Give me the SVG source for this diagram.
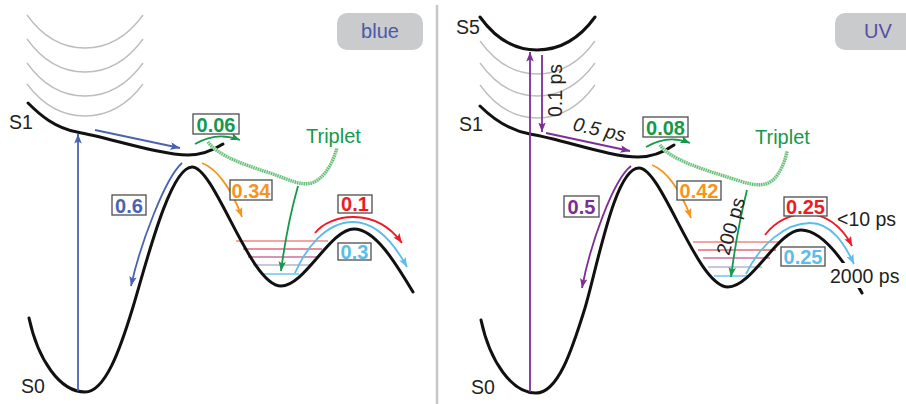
<svg xmlns="http://www.w3.org/2000/svg" width="906" height="404" viewBox="0 0 906 404">
<style>
text{font-family:"Liberation Sans",Arial,sans-serif;}
.lbl{font-size:19.5px;fill:#231f20;}
.num{font-size:20px;font-weight:bold;text-anchor:middle;}
.box{fill:#fff;stroke:#4d4d4d;stroke-width:1.3;}
.pes{fill:none;stroke:#111;stroke-width:3;stroke-linecap:round;}
.gray{fill:none;stroke:#bdbdbd;stroke-width:1.3;}
.vib{stroke-width:1.4;}
.arr{fill:none;stroke-width:1.8;}
.dot{fill:none;stroke:#c4e6c9;stroke-width:3.4;}
.dot2{fill:none;stroke:#55b86a;stroke-width:3.4;stroke-dasharray:1 1.3;}
.tag{fill:#c9cbcd;}
</style>
<defs>
<marker id="hBlue" markerUnits="userSpaceOnUse" markerWidth="11" markerHeight="8" refX="9.5" refY="3.75" orient="auto"><path d="M0,0 L9.5,3.75 L0,7.5 L2,3.75Z" fill="#4a63b0"/></marker>
<marker id="hGreen" markerUnits="userSpaceOnUse" markerWidth="11" markerHeight="8" refX="9.5" refY="3.75" orient="auto"><path d="M0,0 L9.5,3.75 L0,7.5 L2,3.75Z" fill="#16994a"/></marker>
<marker id="hOrange" markerUnits="userSpaceOnUse" markerWidth="11" markerHeight="8" refX="9.5" refY="3.75" orient="auto"><path d="M0,0 L9.5,3.75 L0,7.5 L2,3.75Z" fill="#f7941d"/></marker>
<marker id="hRed" markerUnits="userSpaceOnUse" markerWidth="11" markerHeight="8" refX="9.5" refY="3.75" orient="auto"><path d="M0,0 L9.5,3.75 L0,7.5 L2,3.75Z" fill="#ed1c24"/></marker>
<marker id="hLBlue" markerUnits="userSpaceOnUse" markerWidth="11" markerHeight="8" refX="9.5" refY="3.75" orient="auto"><path d="M0,0 L9.5,3.75 L0,7.5 L2,3.75Z" fill="#5bbde8"/></marker>
<marker id="hPurple" markerUnits="userSpaceOnUse" markerWidth="11" markerHeight="8" refX="9.5" refY="3.75" orient="auto"><path d="M0,0 L9.5,3.75 L0,7.5 L2,3.75Z" fill="#7b2f96"/></marker>
</defs>
<rect x="0" y="0" width="906" height="404" fill="#fff"/>
<line x1="437" y1="5" x2="437" y2="404" stroke="#c8c8c8" stroke-width="2.5"/>

<g id="left-panel">
  <g id="tag-blue"><rect class="tag" x="337" y="13" width="86" height="37" rx="10"/><text x="380" y="38" font-size="20" fill="#4a5aa8" text-anchor="middle">blue</text></g>
  <g id="left-higher-states">
    <path class="gray" d="M27,15 C45,40 65,48 85,48 C105,48 125,40 143,15"/>
    <path class="gray" d="M27,39 C45,64 65,72 85,72 C105,72 125,64 143,39"/>
    <path class="gray" d="M27,63 C45,88 65,96 85,96 C105,96 125,88 143,63"/>
    <path class="gray" d="M27,84 C45,108 65,116 85,116 C105,116 125,108 143,84"/>
  </g>
  <g id="left-vib-levels">
    <line class="vib" x1="236" y1="241" x2="328" y2="241" stroke="#f28585"/>
    <line class="vib" x1="243" y1="249" x2="322" y2="249" stroke="#e9667a"/>
    <line class="vib" x1="248" y1="257" x2="317" y2="257" stroke="#c772a4"/>
    <line class="vib" x1="253" y1="265" x2="311" y2="265" stroke="#b4b4d8"/>
    <line class="vib" x1="262" y1="274" x2="299" y2="274" stroke="#6cc6ee"/>
  </g>
  <g id="left-S1"><path class="pes" d="M28,103 C40,115 55,128 77,132 C110,138 160,155 188,155 C200,155 212,151 223,144"/><text class="lbl" x="9" y="129">S1</text></g>
  <g id="left-S0"><path class="pes" d="M29,318 C38,360 60,392 85,392 C105,392 120,350 133,307 C146,264 170,167 192,167 C215,167 250,286 281,286 C305,286 330,229 354,229 C375,229 395,262 413,292"/><text class="lbl" x="21" y="393">S0</text></g>
  <g id="left-triplet"><path class="dot" d="M208,142 C218,156 245,165 270,173 C290,180 300,186 312,183 C325,178 333,162 337,148"/><path class="dot2" d="M208,142 C218,156 245,165 270,173 C290,180 300,186 312,183 C325,178 333,162 337,148"/><text x="306" y="143" font-size="20" fill="#16994a">Triplet</text></g>
</g>

<g id="right-panel">
  <g id="tag-uv"><rect class="tag" x="835" y="13" width="90" height="37" rx="10"/><text x="878" y="38" font-size="20" fill="#5a4fa0" text-anchor="middle">UV</text></g>
  <g id="right-higher-states">
    <path class="gray" d="M480,41 C498,66 517,74 537,74 C557,74 577,66 595,41"/>
    <path class="gray" d="M480,63 C498,88 517,96 537,96 C557,96 577,88 595,63"/>
    <path class="gray" d="M480,85 C498,110 517,118 537,118 C557,118 577,110 595,85"/>
  </g>
  <g id="right-vib-levels">
    <line class="vib" x1="693" y1="242" x2="781" y2="242" stroke="#f28585"/>
    <line class="vib" x1="698" y1="250" x2="776" y2="250" stroke="#e9667a"/>
    <line class="vib" x1="703" y1="258" x2="770" y2="258" stroke="#c772a4"/>
    <line class="vib" x1="708" y1="267" x2="762" y2="267" stroke="#b4b4d8"/>
    <line class="vib" x1="714" y1="276" x2="748" y2="276" stroke="#6cc6ee"/>
  </g>
  <g id="right-S5"><path class="pes" d="M480,17 C498,42 517,50 537,50 C557,50 577,42 595,17"/><text class="lbl" x="456" y="34">S5</text></g>
  <g id="right-S1"><path class="pes" d="M480,106 C492,118 508,130 530,134 C565,140 610,157 638,157 C652,157 664,152 674,145"/><text class="lbl" x="459" y="131">S1</text></g>
  <g id="right-S0"><path class="pes" d="M481,320 C490,362 512,393 536,393 C558,393 572,350 585,308 C598,264 615,168 639,168 C662,168 697,287 728,287 C752,287 778,230 801,230 C823,230 845,262 862,293"/><text class="lbl" x="471" y="394">S0</text></g>
  <g id="right-triplet"><path class="dot" d="M660,145 C670,160 705,170 740,181 C755,186 767,187 775,178 C782,170 786,158 787,151"/><path class="dot2" d="M660,145 C670,160 705,170 740,181 C755,186 767,187 775,178 C782,170 786,158 787,151"/><text x="755" y="144" font-size="20" fill="#16994a">Triplet</text></g>
  <g id="label-2000ps"><rect x="829" y="263" width="77" height="25" fill="#fff"/><text class="lbl" x="830" y="283" font-size="20">2000 ps</text></g>
</g>

<g id="connectors">
  <path class="arr" stroke="#4a63b0" d="M78,391 L78,134" marker-end="url(#hBlue)"/>
  <path class="arr" stroke="#4a63b0" d="M95,130 L180,148" marker-end="url(#hBlue)"/>
  <path class="arr" stroke="#4a63b0" d="M182,163 C165,178 140,245 131,286" marker-end="url(#hBlue)"/>
  <path class="arr" stroke="#f7941d" d="M202,163 C215,168 230,185 242,217" marker-end="url(#hOrange)"/>
  <path class="arr" stroke="#16994a" d="M195,144 Q217,131 240,140" marker-end="url(#hGreen)"/>
  <path class="arr" stroke="#16994a" d="M298,186 Q287,225 281,271" marker-end="url(#hGreen)"/>
  <path class="arr" stroke="#ed1c24" d="M315,233 C330,214 375,206 402,243" marker-end="url(#hRed)"/>
  <path class="arr" stroke="#5bbde8" d="M295,273 C305,250 325,222 353,222 C378,222 395,245 407,267" marker-end="url(#hLBlue)"/>

  <path class="arr" stroke="#7b2f96" d="M530,392 L530,52" marker-end="url(#hPurple)"/>
  <path class="arr" stroke="#7b2f96" d="M542,55 L542,132" marker-end="url(#hPurple)"/>
  <path class="arr" stroke="#7b2f96" d="M546,133 L630,151" marker-end="url(#hPurple)"/>
  <path class="arr" stroke="#7b2f96" d="M631,166 C613,180 590,245 582,288" marker-end="url(#hPurple)"/>
  <path class="arr" stroke="#f7941d" d="M652,165 C665,170 680,188 691,218" marker-end="url(#hOrange)"/>
  <path class="arr" stroke="#16994a" d="M646,147 Q668,134 690,143" marker-end="url(#hGreen)"/>
  <path class="arr" stroke="#16994a" d="M747,190 Q737,230 731,277" marker-end="url(#hGreen)"/>
  <path class="arr" stroke="#ed1c24" d="M765,235 C785,208 830,202 852,246" marker-end="url(#hRed)"/>
  <path class="arr" stroke="#5bbde8" d="M746,274 C760,245 785,223 810,223 C832,223 845,245 854,264" marker-end="url(#hLBlue)"/>
</g>

<g id="left-labels">
  <g id="box-006"><rect class="box" x="193" y="114" width="46" height="20"/><text class="num" x="216" y="131.5" fill="#16994a">0.06</text></g>
  <g id="box-06"><rect class="box" x="112" y="195" width="34" height="20"/><text class="num" x="129" y="212.5" fill="#4a63b0">0.6</text></g>
  <g id="box-034"><rect class="box" x="230" y="180" width="42" height="20"/><text class="num" x="251" y="197.5" fill="#f7941d">0.34</text></g>
  <g id="box-01"><rect class="box" x="338" y="195" width="34" height="18"/><text class="num" x="355" y="210.5" fill="#ed1c24">0.1</text></g>
  <g id="box-03"><rect class="box" x="338" y="243" width="33" height="17"/><text class="num" x="354.5" y="258.5" fill="#5bbde8">0.3</text></g>
</g>
<g id="right-labels">
  <g id="box-008"><rect class="box" x="643" y="117" width="45" height="20"/><text class="num" x="665.5" y="134.5" fill="#16994a">0.08</text></g>
  <g id="box-05"><rect class="box" x="564" y="196" width="35" height="21"/><text class="num" x="581.5" y="214" fill="#7b2f96">0.5</text></g>
  <g id="box-042"><rect class="box" x="677" y="181" width="44" height="19"/><text class="num" x="699" y="198" fill="#f7941d">0.42</text></g>
  <g id="box-025r"><rect class="box" x="784" y="197" width="43" height="19"/><text class="num" x="805.5" y="214" fill="#ed1c24">0.25</text></g>
  <g id="box-025b"><rect class="box" x="781" y="247" width="44" height="19"/><text class="num" x="803" y="263.5" fill="#5bbde8">0.25</text></g>
  <text class="lbl" x="562" y="90.5" font-size="20" text-anchor="middle" transform="rotate(-90 562 90.5)">0.1 ps</text>
  <text class="lbl" x="598" y="136" font-size="20" font-style="italic" text-anchor="middle" transform="rotate(13 598 136)">0.5 ps</text>
  <text class="lbl" x="737" y="228" font-size="20" text-anchor="middle" transform="rotate(-74 737 228)">200 ps</text>
  <text class="lbl" x="837" y="225.5" font-size="20">&lt;10 ps</text>
</g>
</svg>
